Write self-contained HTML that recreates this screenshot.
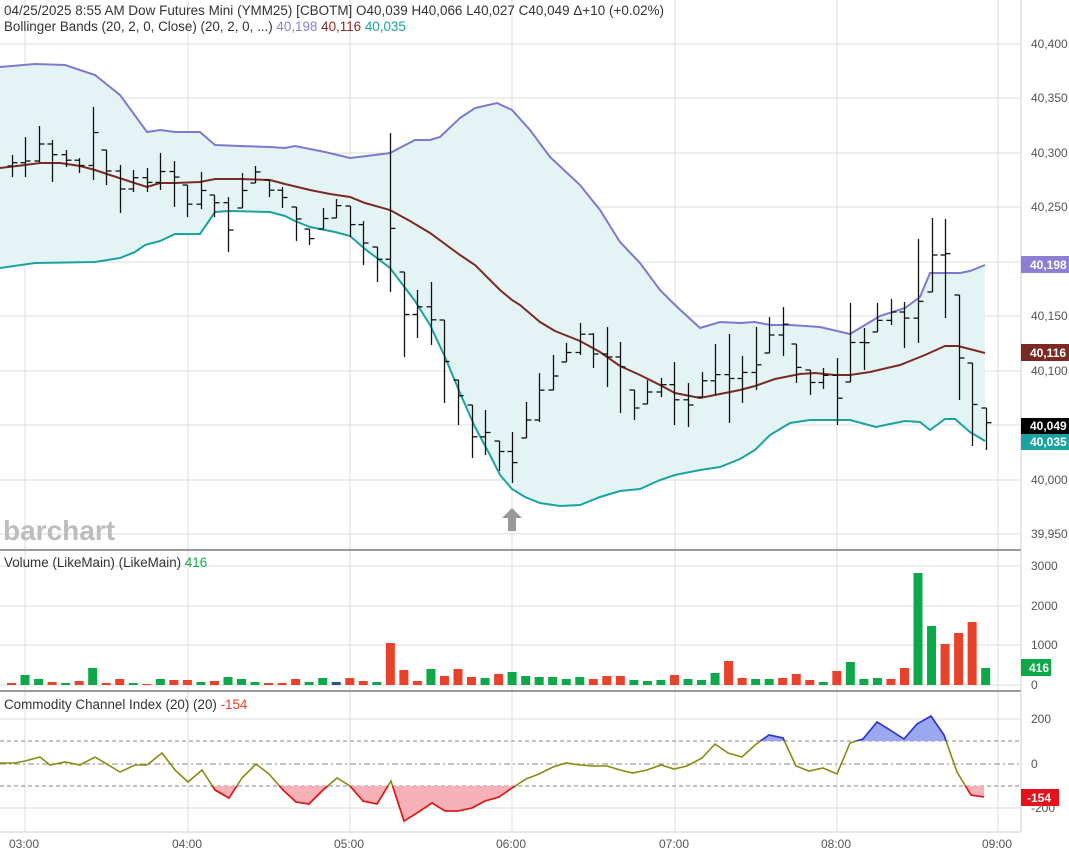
<!DOCTYPE html>
<html><head><meta charset="utf-8"><style>
body{margin:0;background:#fff;width:1069px;height:857px;overflow:hidden;font-family:"Liberation Sans",sans-serif}
svg{position:absolute;left:0;top:0}
</style></head><body>
<svg id="s" width="1069" height="857" xmlns="http://www.w3.org/2000/svg" font-family="Liberation Sans, sans-serif">
<defs>
<clipPath id="cb"><rect x="0" y="690" width="1021" height="51"/></clipPath>
<clipPath id="cr"><rect x="0" y="786" width="1021" height="50"/></clipPath>
</defs>
<g id="grid" stroke="#dcdcdc" stroke-width="1"></g>
<g id="plot"></g>
<text x="3" y="540" font-size="28" font-weight="bold" fill="#bdbdbd">barchart</text>
<polygon points="512,508 502,518 508,518 508,531 516,531 516,518 522,518" fill="#999"/>
<line x1="0" y1="550" x2="1021" y2="550" stroke="#9a9a9a" stroke-width="2"/>
<line x1="0" y1="691" x2="1021" y2="691" stroke="#9a9a9a" stroke-width="2"/>
<line x1="1021" y1="0" x2="1021" y2="832" stroke="#cfcfcf"/>
<line x1="0" y1="832" x2="1021" y2="832" stroke="#cfcfcf"/>
<g font-size="13.4" fill="#333">
<text x="4" y="15" textLength="660">04/25/2025  8:55 AM Dow Futures Mini (YMM25) [CBOTM]  O40,039  H40,066  L40,027  C40,049  Δ+10 (+0.02%)</text>
<text x="4" y="31">Bollinger Bands (20, 2, 0, Close)  (20, 2, 0, ...) <tspan fill="#8b80cc">40,198</tspan> <tspan fill="#8a2a22">40,116</tspan> <tspan fill="#1aa3a3">40,035</tspan></text>
<text x="4" y="567">Volume (LikeMain)  (LikeMain) <tspan fill="#1aa54e">416</tspan></text>
<text x="4" y="709">Commodity Channel Index (20)  (20) <tspan fill="#e8432a">-154</tspan></text>
</g>
<g font-size="12" fill="#555">
<text x="1031" y="48">40,400</text><text x="1031" y="102">40,350</text><text x="1031" y="157">40,300</text>
<text x="1031" y="211">40,250</text><text x="1031" y="375">40,100</text><text x="1031" y="320">40,150</text>
<text x="1031" y="484">40,000</text><text x="1031" y="538">39,950</text>
<text x="1031" y="570">3000</text><text x="1031" y="610">2000</text><text x="1031" y="649">1000</text><text x="1031" y="689">0</text>
<text x="1031" y="723">200</text><text x="1031" y="768">0</text><text x="1031" y="812">-200</text>
<text x="9" y="848">03:00</text><text x="172" y="848">04:00</text><text x="334" y="848">05:00</text>
<text x="496" y="848">06:00</text><text x="659" y="848">07:00</text><text x="821" y="848">08:00</text><text x="982" y="848">09:00</text>
</g>
<g font-size="12" font-weight="bold" fill="#fff">
<rect x="1021" y="256" width="48" height="17" fill="#8b80d6"/><text x="1030" y="269">40,198</text>
<rect x="1021" y="344" width="48" height="17" fill="#7a2a22"/><text x="1030" y="357">40,116</text>
<rect x="1021" y="418" width="48" height="16" fill="#000"/><text x="1030" y="430">40,049</text>
<rect x="1021" y="434" width="48" height="16" fill="#1aa3a3"/><text x="1030" y="446">40,035</text>
<rect x="1021" y="659" width="30" height="17" fill="#0ea84b"/><text x="1029" y="672">416</text>
<rect x="1021" y="789" width="38" height="17" fill="#e8101a"/><text x="1027" y="802">-154</text>
</g>
</svg>
<script>
var NS="http://www.w3.org/2000/svg";
function el(p,t,a){var e=document.createElementNS(NS,t);for(var k in a)e.setAttribute(k,a[k]);p.appendChild(e);return e;}
var g=document.getElementById('grid'),P=document.getElementById('plot');
[25,188,350,512,675,837,998].forEach(function(x){el(g,'line',{x1:x,y1:0,x2:x,y2:832});});
[44,98,153,207,262,316,371,425,480,534,566,606,645,685,719,808].forEach(function(y){el(g,'line',{x1:0,y1:y,x2:1021,y2:y});});
el(g,'line',{x1:0,y1:741,x2:1021,y2:741,stroke:'#888','stroke-dasharray':'4,3'});
el(g,'line',{x1:0,y1:786,x2:1021,y2:786,stroke:'#888','stroke-dasharray':'4,3'});
el(g,'line',{x1:0,y1:764,x2:1021,y2:764,stroke:'#888','stroke-dasharray':'6,3,2,3'});
function pts(a){var s=[];for(var i=0;i<a.length;i+=2)s.push(a[i]+','+a[i+1]);return s.join(' ');}
var up=[0,67,35,64,65,65,95,75,120,95,147,132,160,130,175,132,200,132,215,145,240,146,270,147,285,148,295,146,310,149,325,152,350,158,375,155,390,153,415,140,430,140,440,137,460,118,475,108,497,103,512,110,530,130,550,157,580,185,600,210,620,242,640,263,660,290,675,305,700,328,720,322,740,323,755,322,770,325,790,325,820,327,850,334,865,325,880,316,905,308,920,297,930,273,960,273,970,271,985,265];
var mid=[0,168,25,165,40,163,60,163,80,166,95,170,110,175,147,187,160,183,175,183,200,182,215,179,240,179,270,180,285,184,310,190,330,194,350,197,365,203,390,210,410,221,430,233,460,255,475,265,500,290,512,300,520,305,540,322,555,331,580,341,600,352,620,366,640,375,660,385,675,393,700,398,725,393,740,390,755,386,775,379,800,374,815,373,835,375,850,375,870,372,900,365,925,355,945,346,958,346,985,353];
var lo=[0,268,35,263,95,262,120,258,135,252,145,245,160,241,175,234,200,234,215,212,230,211,270,212,285,216,295,221,310,227,335,232,350,236,365,249,390,268,415,301,430,325,445,357,460,393,475,427,490,455,500,475,512,489,525,497,540,503,560,506,580,505,600,497,620,491,640,489,660,480,675,475,700,470,720,467,740,459,755,450,770,435,790,423,810,420,830,420,850,420,876,427,890,424,905,421,920,422,930,430,945,419,955,419,970,432,985,441];
var rl=[];for(var i=lo.length-2;i>=0;i-=2)rl.push(lo[i],lo[i+1]);
el(P,'polygon',{points:pts(up.concat(rl)),fill:'#e4f4f5'});
el(P,'polyline',{points:pts(up),fill:'none',stroke:'#7f78cf','stroke-width':2});
el(P,'polyline',{points:pts(mid),fill:'none',stroke:'#7a2a22','stroke-width':2});
el(P,'polyline',{points:pts(lo),fill:'none',stroke:'#19a3a3','stroke-width':2});
var HL=[[155,177],[137,177],[126,162],[140,182],[150,167],[158,173],[107,180],[150,185],[165,213],[170,192],[168,192],[153,190],[161,207],[185,217],[172,209],[195,217],[197,252],[173,208],[166,183],[180,197],[187,208],[207,241],[229,245],[208,229],[199,218],[206,237],[221,265],[247,282],[133,292],[272,357],[290,338],[282,345],[320,403],[380,425],[405,458],[410,455],[441,471],[432,483],[402,438],[373,422],[355,390],[343,362],[323,355],[333,368],[327,387],[342,413],[390,420],[380,404],[378,397],[362,425],[383,427],[372,397],[344,395],[334,423],[356,403],[327,390],[317,353],[307,356],[344,383],[370,395],[368,389],[358,425],[303,382],[328,370],[303,332],[299,325],[302,348],[239,343],[218,292],[219,318],[295,400],[363,446],[408,450]];
var prev=null;
HL.forEach(function(b,i){var x=Math.round(11.5+i*13.53)+0.5;var h=b[0],l=b[1];
 var o=prev===null?(h+l)/2:Math.min(l,Math.max(h,prev));var c=h+(l-h)*(i%3==0?0.35:(i%3==1?0.6:0.5));prev=c;
 el(P,'line',{x1:x,y1:h,x2:x,y2:l,stroke:'#111','stroke-width':1.3});
 el(P,'line',{x1:x-5,y1:o,x2:x,y2:o,stroke:'#111','stroke-width':1.3});
 el(P,'line',{x1:x,y1:c,x2:x+5,y2:c,stroke:'#111','stroke-width':1.3});});
var V=[[683,'r'],[675,'g'],[679,'g'],[682,'r'],[683,'g'],[681,'r'],[668,'g'],[683,'r'],[679,'r'],[683,'g'],[684,'r'],[679,'g'],[680,'r'],[680,'r'],[682,'g'],[681,'r'],[677,'g'],[679,'g'],[682,'g'],[683,'r'],[683,'r'],[679,'r'],[682,'g'],[678,'g'],[682,'b'],[678,'r'],[681,'r'],[682,'g'],[643,'r'],[670,'r'],[681,'r'],[669,'g'],[676,'r'],[669,'r'],[677,'r'],[678,'g'],[674,'r'],[672,'g'],[676,'g'],[677,'g'],[677,'g'],[679,'g'],[677,'g'],[679,'r'],[676,'r'],[676,'r'],[680,'g'],[681,'g'],[680,'g'],[675,'r'],[679,'g'],[680,'g'],[673,'g'],[661,'r'],[678,'r'],[679,'g'],[679,'g'],[678,'r'],[674,'r'],[680,'r'],[682,'g'],[671,'r'],[662,'g'],[679,'g'],[678,'g'],[679,'r'],[668,'r'],[573,'g'],[626,'g'],[644,'r'],[633,'r'],[622,'r'],[668,'g']];
var col={r:'#e8432a',g:'#0ea84b',b:'#2a4f9a'};
V.forEach(function(v,i){var x=11.5+i*13.53;el(P,'rect',{x:x-4.5,y:v[0],width:9,height:685-v[0],fill:col[v[1]]});});
var C=[0,763,15,763,25,761,40,757,50,765,65,762,80,765,95,757,110,766,120,772,135,765,147,765,162,753,175,770,188,782,202,770,215,790,229,798,242,778,256,764,269,774,283,790,296,802,309,804,323,790,337,778,350,786,363,801,377,804,391,781,404,821,417,813,432,803,445,811,458,811,472,808,485,801,499,797,512,788,526,779,539,774,553,767,566,763,580,765,593,766,607,766,620,770,633,773,647,770,661,765,674,769,687,766,702,758,715,744,728,753,742,757,755,745,769,735,783,738,796,766,809,771,823,768,837,774,850,743,863,739,877,722,890,730,904,739,917,724,931,716,944,735,957,772,971,795,984,797];
var a1=C.concat([984,741,0,741]),a2=C.concat([984,786,0,786]);
el(P,'polygon',{points:pts(a1),fill:'#9aa8f0','clip-path':'url(#cb)'});
el(P,'polygon',{points:pts(a2),fill:'#f5b0b8','clip-path':'url(#cr)'});
el(P,'polyline',{points:pts(C),fill:'none',stroke:'#8a8a10','stroke-width':1.6});
el(P,'polyline',{points:pts(C),fill:'none',stroke:'#3030e0','stroke-width':1.6,'clip-path':'url(#cb)'});
el(P,'polyline',{points:pts(C),fill:'none',stroke:'#e8101a','stroke-width':1.6,'clip-path':'url(#cr)'});
</script>
</body></html>
